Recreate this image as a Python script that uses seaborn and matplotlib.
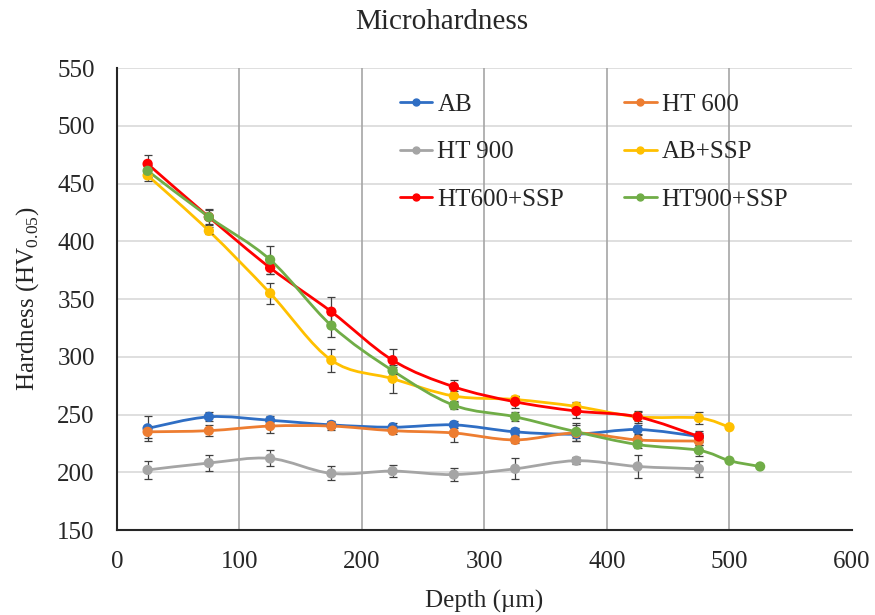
import numpy as np
import pandas as pd
import matplotlib
matplotlib.use("Agg")
import matplotlib.pyplot as plt
from matplotlib.path import Path
from matplotlib.patches import PathPatch
from matplotlib.lines import Line2D
import seaborn as sns

# Daten
depth = [25, 75, 125, 175, 225, 275, 325, 375, 425, 475]
depth_ab_ssp = depth + [500]
depth_ht900_ssp = depth + [500, 525]

ab = [238, 248, 245, 241, 239, 241, 235, 233, 237, 231]
ab_err = [11, 4, 4, 3, 4, 3, 3, 3, 4, 3]
ht600 = [235, 236, 240, 240, 236, 234, 228, 234, 228, 227]
ht600_err = [5, 5, 6, 3, 3, 8, 3, 7, 4, 3]
ht900 = [202, 208, 212, 199, 201, 198, 203, 210, 205, 203]
ht900_err = [8, 7, 7, 6, 5, 6, 9, 3, 10, 7]
ab_ssp = [457, 409, 355, 297, 281, 266, 263, 257, 248, 247, 239]
ab_ssp_err = [5, 3, 9, 10, 12, 4, 3, 4, 4, 5, 0]
ht600_ssp = [467, 421, 377, 339, 297, 274, 261, 253, 248, 231]
ht600_ssp_err = [8, 6, 5, 13, 10, 6, 5, 6, 5, 5]
ht900_ssp = [461, 421, 384, 327, 288, 258, 248, 235, 224, 219, 210, 205]
ht900_ssp_err = [5, 7, 12, 10, 3, 3, 4, 8, 3, 5, 0, 0]

labels = ["AB", "HT 600", "HT 900", "AB+SSP", "HT600+SSP", "HT900+SSP"]
colors = ["#2F6EC4", "#ED7D31", "#A5A5A5", "#FFC000", "#FF0000", "#70AD47"]

series = [
    (depth, ab, ab_err),
    (depth, ht600, ht600_err),
    (depth, ht900, ht900_err),
    (depth_ab_ssp, ab_ssp, ab_ssp_err),
    (depth, ht600_ssp, ht600_ssp_err),
    (depth_ht900_ssp, ht900_ssp, ht900_ssp_err),
]

frames = []
for lab, (x, y, e) in zip(labels, series):
    frames.append(pd.DataFrame({"Depth": x, "Hardness": y, "Err": e, "Sample": lab}))
df = pd.concat(frames, ignore_index=True)


def smooth_path(x, y):
    # geglaettete Linie wie in Excel (Bezier durch die Punkte)
    p = np.column_stack([x, y]).astype(float)
    n = len(p)
    verts = [p[0]]
    codes = [Path.MOVETO]
    for i in range(n - 1):
        p0 = p[i - 1] if i > 0 else p[i]
        p3 = p[i + 2] if i + 2 < n else p[i + 1]
        c1 = p[i] + (p[i + 1] - p0) / 6
        c2 = p[i + 1] - (p3 - p[i]) / 6
        verts += [c1, c2, p[i + 1]]
        codes += [Path.CURVE4] * 3
    return Path(verts, codes)


sns.set_style("white")
plt.rcParams['font.family'] = ['Liberation Serif', 'DejaVu Serif']

fig = plt.figure(figsize=(8.75, 6.15), dpi=100)
ax = fig.add_axes([0.1337, 0.1382, 0.84, 0.7512])

for k, (lab, col) in enumerate(zip(labels, colors)):
    d = df[df["Sample"] == lab]
    z = 3 + k
    ax.add_patch(PathPatch(smooth_path(d["Depth"], d["Hardness"]), facecolor="none",
                           edgecolor=col, lw=2.0, transform=ax.transData, zorder=z))
    m = d["Err"] > 0
    ax.errorbar(d["Depth"][m], d["Hardness"][m], yerr=d["Err"][m], fmt="none",
                ecolor="#404040", elinewidth=0.9, capsize=3, capthick=0.9, zorder=z)

sns.scatterplot(data=df, x="Depth", y="Hardness", hue="Sample", hue_order=labels,
                palette=colors, s=55, edgecolor="none", legend=False, ax=ax, zorder=10)

ax.set_xlim(0, 600)
ax.set_ylim(150, 550)
ax.set_xticks(range(0, 601, 100))
ax.set_yticks(range(150, 551, 50))
ax.tick_params(labelsize=18, length=0)
ax.tick_params(axis="y", pad=16)
ax.tick_params(axis="x", pad=15)

for v in range(150, 551, 50):
    ax.axhline(v, color="#D9D9D9", lw=1.2, zorder=1)
for v in range(100, 501, 100):
    ax.axvline(v, color="#A6A6A6", lw=1.2, zorder=1)

for s in ["top", "right"]:
    ax.spines[s].set_visible(False)
ax.spines["left"].set_color("#262626")
ax.spines["bottom"].set_color("#262626")
ax.spines["left"].set_linewidth(1.5)
ax.spines["bottom"].set_linewidth(1.5)

ax.set_xlabel("Depth (µm)", fontsize=18, labelpad=12)
ax.set_ylabel(r"Hardness (HV$_{\mathregular{0.05}}$)", fontsize=18, labelpad=12)

fig.text(0.505, 0.965, "Microhardness", ha="center", va="center", fontsize=21)

# Legende zeilenweise wie im Original
order = [0, 2, 4, 1, 3, 5]
handles = [Line2D([0], [0], color=colors[i], lw=2, marker="o", markersize=5) for i in order]
ax.legend(handles, [labels[i] for i in order], ncol=2, loc="upper left",
          bbox_to_anchor=(0.385, 0.945), frameon=False, fontsize=18,
          handlelength=1.3, handletextpad=0.2, columnspacing=2.4,
          labelspacing=1.0, borderpad=0, borderaxespad=0)

fig.savefig("out.png", dpi=100)
